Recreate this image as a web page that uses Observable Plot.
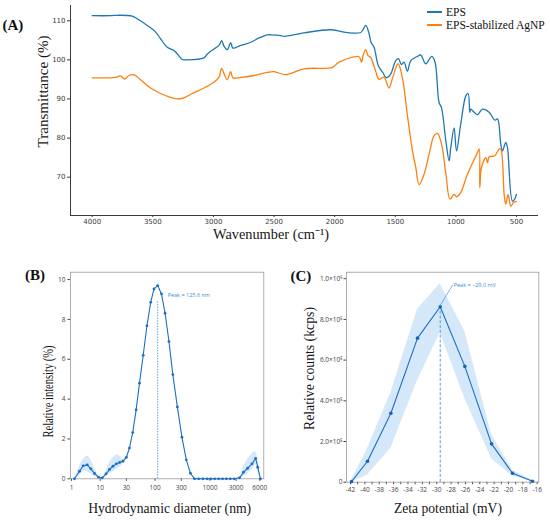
<!DOCTYPE html>
<html><head><meta charset="utf-8">
<script src="https://cdn.jsdelivr.net/npm/d3@7"></script>
<script src="https://cdn.jsdelivr.net/npm/@observablehq/plot@0.6"></script>
<style>
body{margin:0;background:#fff}
#wrap{position:relative;width:550px;height:522px;overflow:hidden;background:#fff}
.plab{position:absolute;font-family:"Liberation Serif",serif;font-weight:bold;font-size:15px;line-height:15px;color:#111}
.lrow{position:absolute;display:flex;align-items:center;height:12px;font-family:"Liberation Serif",serif;font-size:11.5px;line-height:12px;color:#111;white-space:nowrap}
.sw{display:inline-block;width:15px;height:2px;margin-right:4px}
</style></head><body><div id="wrap"></div><script>
// ---------- Panel A: FTIR ----------
const seriesNames = ["EPS", "EPS-stabilized AgNP"];
const seriesColors = ["#1f77b4", "#ff7f0e"];
const aXTicks = [4000, 3500, 3000, 2500, 2000, 1500, 1000, 500];
const aYTicks = [70, 80, 90, 100, 110];
const epsWn = [4000,3849,3794,3670,3629,3546,3477,3436,3381,3326,3298,3257,3216,3078,3050,2995,2954,2932,2913,2885,2858,2839,2775,2693,2624,2555,2528,2446,2418,2253,2033,1923,1785,1744,1717,1700,1675,1640,1604,1578,1565,1537,1496,1474,1449,1428,1400,1372,1304,1290,1249,1199,1172,1139,1119,1083,1056,1042,1015,995,960,918,899,885,877,850,822,781,726,679,657,630,616,589,575,534,515,501];
const epsT = [111.3,111.3,111.4,111.2,110.5,108.8,107.1,105.4,103.2,102.4,101.5,100.1,100.0,100.5,101.5,102.8,103.7,104.9,103.5,102.6,104.4,103.0,103.7,104.5,105.6,106.4,106.4,106.2,106.0,106.9,107.7,107.1,107.0,108.8,106.8,104.5,103.2,98.5,96.8,95.5,95.5,96.4,99.8,100.3,98.8,99.4,97.1,99.8,101.1,101.3,99.0,100.9,99.4,89.1,87.8,79.3,74.2,77.6,82.6,76.7,83.6,90.8,91.4,86.6,87.4,86.6,86.0,87.4,86.6,84.6,84.9,78.5,76.7,78.9,77.6,63.9,64.4,65.6];
const agWn = [4000,3876,3808,3766,3733,3698,3657,3601,3519,3436,3354,3298,3244,3174,3079,2996,2955,2933,2914,2886,2858,2839,2776,2666,2555,2500,2404,2253,2019,1964,1799,1779,1766,1744,1725,1703,1661,1634,1593,1552,1524,1477,1441,1400,1358,1331,1304,1262,1221,1180,1152,1119,1083,1049,1015,993,960,904,822,808,803,789,753,739,726,679,643,630,602,589,570,547,525,501];
const agT = [95.4,95.4,95.5,95.9,95.1,96.0,96.2,94.9,92.8,91.4,90.4,90.0,90.3,91.4,92.8,94.3,95.5,97.8,96.6,94.9,97.0,95.4,95.5,96.0,96.8,97.0,96.2,97.7,98.1,99.4,100.8,99.4,101.1,102.6,101.1,100.6,97.0,95.0,95.6,92.8,95.2,99.0,95.3,85.8,76.7,72.5,68.1,70.8,75.9,80.6,81.2,78.5,71.0,64.4,65.6,65.0,66.1,70.8,76.3,77.2,67.3,72.5,75.0,73.7,75.2,75.5,77.2,77.2,65.6,63.1,65.5,62.6,63.5,63.8];

// ---------- Panel B: DLS ----------
const bXTicks = [1, 10, 30, 100, 300, 1000, 3000, 6000];
const bYTicks = [0, 2, 4, 6, 8, 10];
const bDiam = [1.27,1.90,2.55,3.52,4.72,6.34,8.74,10.9,12.8,14.8,17.1,19.7,22.6,26.0,30.0,34.1,39.1,45.2,52.0,60.8,71.1,83.2,95.6,111.5,131.1,152.2,179.2,210.9,255,309,371,441,524,624,745,889,1041,1226,1442,1697,1997,2350,2766,3319,3730,4200,4776,5325,5653,6113];
const bInt  = [0,0.38,0.65,0.70,0.50,0.27,0.08,0.05,0.25,0.47,0.63,0.75,0.82,0.88,1.08,1.54,2.32,3.46,4.80,6.20,7.68,8.86,9.53,9.70,9.28,8.31,6.89,5.23,3.61,2.09,0.95,0.28,0,0,0,0,0,0,0,0,0,0,0,0.05,0.33,0.53,0.75,1.03,0.58,0];
const bLow  = [0,0.15,0.35,0.35,0.25,0.10,0.03,0.05,0.10,0.25,0.35,0.45,0.55,0.75,1.08,1.54,2.32,3.46,4.80,6.20,7.68,8.86,9.53,9.70,9.28,8.31,6.89,5.23,3.61,2.09,0.95,0.28,0,0,0,0,0,0,0,0,0,0,0,0,0.10,0.25,0.45,0.70,0.35,0];
const bHigh = [0,0.60,0.95,1.15,0.95,0.55,0.15,0.05,0.40,0.80,1.05,1.20,1.15,0.98,1.08,1.54,2.32,3.46,4.80,6.20,7.68,8.86,9.53,9.70,9.28,8.31,6.89,5.23,3.61,2.09,0.95,0.28,0,0,0,0,0,0,0,0,0,0,0,0.12,0.60,0.95,1.25,1.35,0.95,0];
const bPeak = {d: 111.5, i: 9.70, label: "Peak = 125.6 nm"};

// ---------- Panel C: Zeta ----------
const cXTicks = [-42,-41,-40,-39,-38,-37,-36,-35,-34,-33,-32,-31,-30,-29,-28,-27,-26,-25,-24,-23,-22,-21,-20,-19,-18,-17,-16];
const cYTicks = [0, 2e5, 4e5, 6e5, 8e5, 1e6];
const cZeta   = [-41.86,-39.63,-36.38,-32.67,-29.51,-26.08,-22.36,-19.44,-16.65];
const cCounts = [3e3,1.03e5,3.39e5,7.08e5,8.62e5,5.69e5,1.885e5,4.4e4,5e3];
const cLow    = [0,3.5e4,1.67e5,5.0e5,7.35e5,4.1e5,1.15e5,3.0e4,2e3];
const cHigh   = [1.0e4,1.65e5,4.4e5,8.5e5,9.75e5,7.4e5,2.35e5,5.8e4,1.0e4];
const cPeak = {z: -29.51, c: 8.62e5, label: "Peak = −29.0 mV"};

const titles = {
  aX: "Wavenumber (cm⁻¹)", aY: "Transmittance (%)",
  bX: "Hydrodynamic diameter (nm)", bY: "Relative intensity (%)",
  cX: "Zeta potential (mV)", cY: "Relative counts (kcps)"
};

// ---------- build ----------
const wrap = document.getElementById("wrap");
function place(el, left, top) { el.style.position = "absolute"; el.style.left = left + "px"; el.style.top = top + "px"; wrap.appendChild(el); }
function fit(svg, text, len) {
  d3.select(svg).selectAll("text").filter(function () { return this.textContent === text; })
    .attr("textLength", len).attr("lengthAdjust", "spacingAndGlyphs");
}
const serif = "Liberation Serif";
function title(text, o) {
  return Plot.text([text], {text: d => d, fontFamily: serif, fontSize: 14, fill: "#161616", textAnchor: "middle", lineAnchor: "middle", ...o});
}

const ftir = [
  ...epsWn.map((w, i) => ({wn: w, t: epsT[i], s: seriesNames[0]})),
  ...agWn.map((w, i) => ({wn: w, t: agT[i], s: seriesNames[1]}))
];

const plotA = Plot.plot({
  width: 550, height: 250, marginLeft: 70, marginRight: 13, marginTop: 5, marginBottom: 35,
  style: {fontFamily: "DejaVu Sans", fontSize: "7px", color: "#3a3a3a", background: "transparent", overflow: "visible"},
  x: {domain: [4179, 327], ticks: aXTicks, tickFormat: d => String(d), tickSize: 2, tickPadding: 1.5, line: true, label: null},
  y: {domain: [60.2, 113.9], ticks: aYTicks, tickFormat: d => String(d), tickSize: 3, tickPadding: 2, line: true, label: null},
  color: {domain: seriesNames, range: seriesColors},
  marks: [
    Plot.line(ftir, {x: "wn", y: "t", z: "s", stroke: "s", strokeWidth: 1.3, curve: "catmull-rom"}),
    title(titles.aX, {frameAnchor: "bottom", dy: 18.5, dx: -33, fontSize: 14.5}),
    title(titles.aY, {frameAnchor: "left", dx: -27, dy: -19, rotate: -90, fontSize: 15})
  ]
});
fit(plotA, titles.aX, 116); fit(plotA, titles.aY, 112);
place(plotA, 0, 0);

// legend A
seriesNames.forEach((name, i) => {
  const row = document.createElement("div");
  row.className = "lrow";
  row.innerHTML = `<span class="sw" style="background:${seriesColors[i]}"></span><span>${name}</span>`;
  place(row, 427, 6 + 13 * i);
});

const dls = bDiam.map((d, i) => ({d, i: bInt[i], lo: bLow[i], hi: bHigh[i]}));
const blue = "#1c6fc2";
const bLastTick = [bXTicks[bXTicks.length - 1]];
const plotB = Plot.plot({
  width: 275, height: 272, marginLeft: 70, marginRight: 11.7, marginTop: 21.7, marginBottom: 43.7,
  style: {fontFamily: "Open Sans", fontSize: "6.5px", color: "#444", background: "transparent", overflow: "visible"},
  x: {type: "log", domain: [1, 10, 3000, 6744], range: [71, 99.7, 235.6, 263.3], ticks: bXTicks, tickFormat: d => String(d), tickSize: 2.5, tickPadding: 4.5, label: null},
  y: {domain: [0, 10.37], ticks: bYTicks, tickFormat: d => String(d), tickSize: 2.5, tickPadding: 2.5, label: null},
  marks: [
    Plot.frame({stroke: "#9a9a9a", strokeWidth: 0.8}),
    Plot.areaY(dls, {x: "d", y1: "lo", y2: "hi", fill: "#cfe5f8", fillOpacity: 0.9, curve: "catmull-rom"}),
    Plot.ruleX([bPeak], {x: "d", y1: 0, y2: d => d.i - 0.8, stroke: "#5aaee6", strokeWidth: 1, strokeDasharray: "1.5,1.2"}),
    Plot.line(dls, {x: "d", y: "i", stroke: blue, strokeWidth: 1.1}),
    Plot.dot(dls, {x: "d", y: "i", r: 1.4, fill: blue, stroke: "none"}),
    Plot.text([bPeak], {x: "d", y: "i", text: "label", dx: 10, dy: 9.5, textAnchor: "start", fill: "#3b8fd6", fontFamily: "Open Sans", fontSize: 5.5}),
    // end tick label (the axis omits the last tick of the piecewise log scale)
    Plot.text(bLastTick, {x: d => d, text: d => String(d), frameAnchor: "bottom", lineAnchor: "top", dy: 7, fill: "#444", fontFamily: "Open Sans", fontSize: 6.5}),
    title(titles.bX, {frameAnchor: "bottom", dy: 30, dx: 2.5}),
    title(titles.bY, {frameAnchor: "left", dx: -22.3, dy: 16, rotate: -90})
  ]
});
fit(plotB, titles.bX, 163); fit(plotB, titles.bY, 92);
place(plotB, 0, 250);

const sup = {5: "⁵", 6: "⁶"};
const cFormat = v => {
  if (v === 0) return "0";
  const e = Math.floor(Math.log10(v) + 1e-9);
  return (v / Math.pow(10, e)).toFixed(1) + "×10" + sup[e];
};
const zeta = cZeta.map((z, i) => ({z, c: cCounts[i], lo: cLow[i], hi: cHigh[i]}));
const plotC = Plot.plot({
  width: 275, height: 272, marginLeft: 71, marginRight: 11.7, marginTop: 21.7, marginBottom: 40.3,
  style: {fontFamily: "Open Sans", fontSize: "6.5px", color: "#444", background: "transparent", overflow: "visible"},
  x: {domain: [-42.56, -15.78], ticks: cXTicks, tickFormat: d => (d % 2 === 0 ? String(d) : ""), tickSize: 2.5, tickPadding: 2.8, label: null},
  y: {domain: [0, 1.032e6], ticks: cYTicks, tickFormat: cFormat, tickSize: 2.5, tickPadding: 1.5, label: null},
  marks: [
    Plot.frame({stroke: "#9a9a9a", strokeWidth: 0.8}),
    Plot.areaY(zeta, {x: "z", y1: "lo", y2: "hi", fill: "#cfe5f8", fillOpacity: 0.9}),
    Plot.ruleX([cPeak], {x: "z", y1: 0, y2: "c", stroke: "#3d93d6", strokeWidth: 0.9, strokeDasharray: "3,1.8"}),
    Plot.line(zeta, {x: "z", y: "c", stroke: blue, strokeWidth: 1.1}),
    Plot.dot(zeta, {x: "z", y: "c", r: 1.8, fill: "#1862b4", stroke: "none"}),
    (index, scales) => {
      const px = scales.x(cPeak.z), py = scales.y(cPeak.c);
      const ln = document.createElementNS("http://www.w3.org/2000/svg", "line");
      ln.setAttribute("x1", px); ln.setAttribute("y1", py);
      ln.setAttribute("x2", px + 13); ln.setAttribute("y2", py - 21.5);
      ln.setAttribute("stroke", "#3d93d6"); ln.setAttribute("stroke-width", "0.7");
      return ln;
    },
    Plot.text([cPeak], {x: "z", y: "c", text: "label", dx: 13.5, dy: -22, textAnchor: "start", fill: "#3b8fd6", fontFamily: "Open Sans", fontSize: 5.5}),
    title(titles.cX, {frameAnchor: "bottom", dy: 26.3, dx: 5.3}),
    title(titles.cY, {frameAnchor: "left", dx: -37, dy: -8.7, rotate: -90})
  ]
});
fit(plotC, titles.cX, 108); fit(plotC, titles.cY, 123);
place(plotC, 275, 250);

// panel letters
[["(A)", 2.5, 17.5], ["(B)", 25, 268], ["(C)", 290.5, 269]].forEach(([t, l, tp]) => {
  const d = document.createElement("div"); d.className = "plab"; d.textContent = t; place(d, l, tp);
});
</script></body></html>
